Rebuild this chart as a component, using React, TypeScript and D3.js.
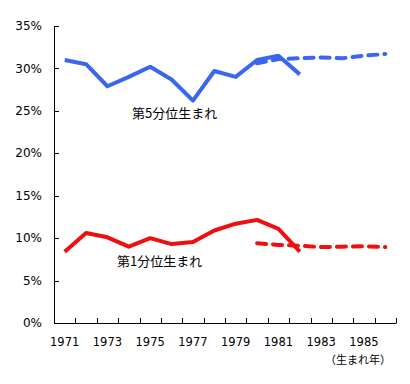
import { useEffect, useRef } from "react";
import * as d3 from "d3";

const years = d3.range(1971, 1987).map(String);
const yTicks = [0, 5, 10, 15, 20, 25, 30, 35];
const xLabels = ["1971", "1973", "1975", "1977", "1979", "1981", "1983", "1985"];

const q5Actual = [31.0, 30.5, 27.9, 29.0, 30.2, 28.7, 26.2, 29.7, 29.0, 31.0, 31.5, 29.3];
const q5Proj = [30.6, 31.1, 31.2, 31.3, 31.2, 31.5, 31.7];
const q1Actual = [8.4, 10.6, 10.1, 9.0, 10.0, 9.3, 9.55, 10.9, 11.7, 12.15, 11.1, 8.4];
const q1Proj = [9.4, 9.2, 9.1, 8.95, 9.0, 9.05, 8.95];

const actualYears = years.slice(0, 12);
const projYears = years.slice(9);

const labelQ5 = "第5分位生まれ";
const labelQ1 = "第1分位生まれ";
const xTitle = "（生まれ年）";

export default function App() {
  const ref = useRef<SVGSVGElement | null>(null);

  useEffect(() => {
    const svg = d3.select(ref.current);
    svg.selectAll("*").remove();
    const width = 410;
    const height = 384;
    const left = 54;
    const right = 396;
    const top = 26;
    const bottom = 323;
    const font = "'Noto Sans CJK JP', 'DejaVu Sans', sans-serif";
    const numFont = "'DejaVu Sans', sans-serif";

    const x = d3.scaleBand<string>().domain(years).range([left, right]);
    const y = d3.scaleLinear().domain([0, 35]).range([bottom, top]);
    const cx = (d: string) => (x(d) as number) + x.bandwidth() / 2;

    svg.attr("width", width).attr("height", height);
    svg.append("rect").attr("width", width).attr("height", height).attr("fill", "#fff");

    // axes
    svg.append("line").attr("x1", left + 0.5).attr("x2", left + 0.5)
      .attr("y1", top).attr("y2", bottom + 0.5).attr("stroke", "#000");
    svg.append("line").attr("x1", left).attr("x2", right + 0.5)
      .attr("y1", bottom + 0.5).attr("y2", bottom + 0.5).attr("stroke", "#000");

    svg.append("g").selectAll("line").data(yTicks.slice(1)).enter().append("line")
      .attr("x1", left).attr("x2", left + 5)
      .attr("y1", (d) => Math.round(y(d)) + 0.5).attr("y2", (d) => Math.round(y(d)) + 0.5)
      .attr("stroke", "#000");

    svg.append("g").selectAll("text").data(yTicks).enter().append("text")
      .attr("x", 42).attr("y", (d) => y(d)).attr("dy", "0.35em")
      .attr("text-anchor", "end").attr("font-family", numFont).attr("font-size", 12)
      .text((d) => `${d}%`);

    const bounds = years.slice(1).map((d) => x(d) as number).concat([right]);
    svg.append("g").selectAll("line").data(bounds).enter().append("line")
      .attr("x1", (d) => Math.round(d) + 0.5).attr("x2", (d) => Math.round(d) + 0.5)
      .attr("y1", bottom - 5).attr("y2", bottom)
      .attr("stroke", "#000");

    svg.append("g").selectAll("text").data(xLabels).enter().append("text")
      .attr("x", (d) => cx(d)).attr("y", 346)
      .attr("text-anchor", "middle").attr("font-family", numFont).attr("font-size", 11.5)
      .text((d) => d);

    svg.append("text").attr("x", 391).attr("y", 364).attr("text-anchor", "end")
      .attr("font-family", font).attr("font-size", 11).text(xTitle);

    const line = d3.line<[string, number]>()
      .x((d) => cx(d[0]))
      .y((d) => y(d[1]));

    const draw = (xs: string[], vs: number[], color: string, dashed: boolean) => {
      const p = svg.append("path")
        .attr("d", line(xs.map((d, i) => [d, vs[i]] as [string, number])))
        .attr("fill", "none").attr("stroke", color).attr("stroke-width", 4)
        .attr("stroke-linejoin", "round");
      if (dashed) p.attr("stroke-dasharray", "9 7").attr("stroke-linecap", "round");
    };

    draw(projYears, q5Proj, "#3a66f0", true);
    draw(actualYears, q5Actual, "#3a66f0", false);
    draw(projYears, q1Proj, "#ee1010", true);
    draw(actualYears, q1Actual, "#ee1010", false);

    svg.append("text").attr("x", 132).attr("y", 113).attr("dy", "0.35em")
      .attr("font-family", font).attr("font-size", 13).text(labelQ5);
    svg.append("text").attr("x", 117).attr("y", 261).attr("dy", "0.35em")
      .attr("font-family", font).attr("font-size", 13).text(labelQ1);
  }, []);

  return <svg ref={ref} style={{ position: "absolute", left: 0, top: 0 }}></svg>;
}
